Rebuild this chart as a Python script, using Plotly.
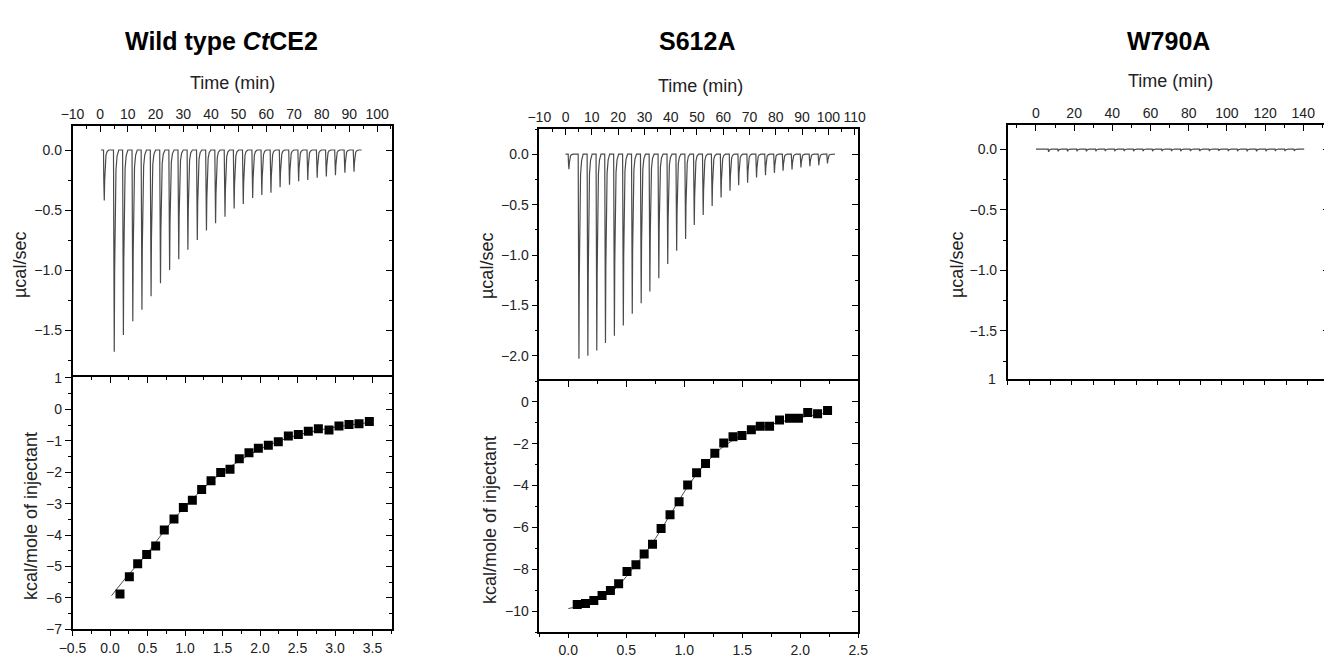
import plotly.graph_objects as go

PAGE_W, PAGE_H = 1332, 658
OFF = 8                      # default body margin of the html page
W, H = PAGE_W - OFF, PAGE_H - OFF

# ---------------- data ----------------
# Wild type CtCE2 : raw thermogram (time in min, peak depth in ucal/sec)
wt_baseline = [0.25, 94.4]
wt_first_time = [1.2]
wt_first_peak = [-0.42]
wt_inj_times = [4.8, 8.1, 11.5, 14.8, 18.1, 21.5, 24.8, 28.1, 31.4, 34.8, 38.1, 41.4, 44.8, 48.1,
                51.4, 54.8, 58.1, 61.4, 64.7, 68.1, 71.4, 74.7, 78.1, 81.4, 84.7, 88.1, 91.4]
wt_peaks = [-1.68, -1.54, -1.425, -1.33, -1.217, -1.11, -1.0, -0.91, -0.83, -0.75, -0.67, -0.61,
            -0.555, -0.486, -0.45, -0.40, -0.375, -0.355, -0.31, -0.29, -0.26, -0.25, -0.23, -0.22,
            -0.21, -0.19, -0.18]
# Wild type : integrated heats
wt_ratio = [0.133, 0.258, 0.369, 0.489, 0.609, 0.724, 0.853, 0.978, 1.098, 1.222, 1.347, 1.476,
            1.600, 1.724, 1.853, 1.978, 2.111, 2.244, 2.378, 2.511, 2.644, 2.778, 2.920, 3.053,
            3.187, 3.320, 3.458]
wt_heat = [-5.88, -5.33, -4.91, -4.62, -4.35, -3.84, -3.49, -3.12, -2.89, -2.55, -2.27, -2.01,
           -1.91, -1.57, -1.38, -1.24, -1.14, -1.03, -0.85, -0.80, -0.70, -0.62, -0.66, -0.53,
           -0.48, -0.46, -0.39]
wt_fit_ratio = [0.02, 0.25, 0.5, 0.75, 1.0, 1.25, 1.5, 1.75, 2.0, 2.25, 2.5, 2.75, 3.0, 3.25, 3.46]
wt_fit_heat = [-5.93, -5.25, -4.58, -3.78, -3.10, -2.50, -2.00, -1.60, -1.26, -1.01, -0.82,
               -0.68, -0.57, -0.48, -0.42]

# S612A : raw thermogram
s6_baseline = [0.0, 102.5]
s6_first_time = [1.0]
s6_first_peak = [-0.15]
s6_inj_times = [4.8, 8.2, 11.6, 14.9, 18.3, 21.7, 25.1, 28.5, 31.8, 35.2, 38.6, 42.0, 45.4, 48.7,
                52.1, 55.5, 58.9, 62.3, 65.6, 69.0, 72.4, 75.8, 79.2, 82.5, 85.9, 89.3, 92.7, 96.1,
                99.4]
s6_peaks = [-2.03, -2.00, -1.947, -1.874, -1.80, -1.70, -1.584, -1.478, -1.363, -1.231, -1.089,
            -0.957, -0.842, -0.703, -0.604, -0.515, -0.43, -0.363, -0.307, -0.284, -0.231, -0.208,
            -0.185, -0.165, -0.152, -0.132, -0.119, -0.109, -0.092]
# S612A : integrated heats
s6_ratio = [0.077, 0.148, 0.220, 0.291, 0.363, 0.434, 0.506, 0.583, 0.654, 0.726, 0.800, 0.877,
            0.955, 1.029, 1.106, 1.183, 1.263, 1.340, 1.420, 1.497, 1.578, 1.655, 1.735, 1.821,
            1.907, 1.984, 2.064, 2.149, 2.235]
s6_heat = [-9.69, -9.64, -9.50, -9.25, -9.01, -8.69, -8.11, -7.79, -7.27, -6.81, -6.05, -5.40,
           -4.77, -3.97, -3.39, -2.95, -2.45, -1.96, -1.66, -1.60, -1.33, -1.16, -1.16, -0.86,
           -0.78, -0.78, -0.51, -0.57, -0.41]
s6_fit_ratio = [0.0, 0.1, 0.2, 0.3, 0.4, 0.5, 0.6, 0.7, 0.8, 0.9, 1.0, 1.1, 1.2, 1.3, 1.4, 1.5,
                1.6, 1.7, 1.8, 1.9, 2.0, 2.1, 2.235]
s6_fit_heat = [-9.88, -9.75, -9.55, -9.30, -8.95, -8.35, -7.65, -6.95, -6.10, -5.20, -4.30, -3.50,
               -2.85, -2.30, -1.90, -1.60, -1.37, -1.17, -1.00, -0.87, -0.75, -0.65, -0.52]

# W790A : raw thermogram (no binding)
w7_baseline = [0.0, 140.5]
w7_inj_times = [6.4, 11.4, 16.3, 21.3, 26.2, 31.2, 36.1, 41.1, 46.0, 51.0, 55.9, 60.9, 65.8, 70.8,
                75.7, 80.7, 85.6, 90.6, 95.5, 100.5, 105.4, 110.4, 115.3, 120.3, 125.2, 130.2, 135.1]
w7_peaks = [-0.022, -0.018, -0.018, -0.016, -0.018, -0.016, -0.015, -0.016, -0.015, -0.016, -0.015,
            -0.016, -0.015, -0.015, -0.016, -0.015, -0.014, -0.015, -0.012, -0.016, -0.016, -0.017,
            -0.018, -0.016, -0.015, -0.014, -0.014]

titles = ["<b>Wild type <i>Ct</i>CE2</b>", "<b>S612A</b>", "<b>W790A</b>"]
time_title = "Time (min)"
raw_title = "µcal/sec"
heat_title = "kcal/mole of injectant"

# ---------------- helpers ----------------
PEAK_DT = [0.0, 0.10, 0.28, 0.42, 0.60, 0.90, 1.30, 1.90]
PEAK_FR = [0.0, 0.60, 1.00, 0.60, 0.28, 0.10, 0.03, 0.0]


def thermogram(baseline, times, depths):
    xs, ys = [baseline[0]], [0.0]
    for t, d in zip(times, depths):
        for dt, fr in zip(PEAK_DT, PEAK_FR):
            xs.append(t + dt)
            ys.append(d * fr)
    xs.append(baseline[1])
    ys.append(0.0)
    return xs, ys


def px(p):
    return (p - OFF) / W


def py(p):
    return 1 - (p - OFF) / H


FONT = "Liberation Sans, Arial, sans-serif"
TICKFONT = dict(family=FONT, size=14, color="#222")
TITLEFONT = dict(family=FONT, size=18, color="#222")
LINE = "#4a4a4a"

base = dict(showgrid=False, zeroline=False, linecolor="black", linewidth=1.5,
            tickcolor="black", tickwidth=1.3, tickfont=TICKFONT, fixedrange=True,
            automargin=False)


def minor(dt, where, ln=3):
    return dict(ticks=where, ticklen=ln, dtick=dt, tick0=0, tickcolor="black", tickwidth=1.2)


fig = go.Figure()
layout = {}
annotations = []

# ---------------- panel geometry (page pixels) ----------------
panels = [
    dict(x=(72.5, 392.0), top=(126, 377), bot=(377, 629.3), blen=5,
         trange=[-10, 105.4], tdt=10, tminor=5,
         yrange=[-1.89, 0.2],
         rrange=[-0.5, 3.76], hrange=[-7, 1.03], hdt=1, hminor=0.5,
         thermo=(wt_baseline, wt_first_time + wt_inj_times, wt_first_peak + wt_peaks),
         pts=(wt_ratio, wt_heat), fit=(wt_fit_ratio, wt_fit_heat),
         ttl=(232, 83), rawttl=(20, 265), heatttl=(31, 516)),
    dict(x=(539.3, 858.3), top=(129, 381), bot=(381, 632.0), blen=4,
         trange=[-10, 111.4], tdt=10, tminor=5,
         yrange=[-2.25, 0.25],
         rrange=[-0.25, 2.5], hrange=[-11, 1.0], hdt=2, hminor=1,
         thermo=(s6_baseline, s6_first_time + s6_inj_times, s6_first_peak + s6_peaks),
         pts=(s6_ratio, s6_heat), fit=(s6_fit_ratio, s6_fit_heat),
         ttl=(700, 86), rawttl=(487, 266), heatttl=(490, 520)),
    dict(x=(1007.7, 1329.0), top=(125, 379.3), bot=None,
         trange=[-14.8, 153.5], tdt=20, tminor=10,
         yrange=[-1.9, 0.2],
         thermo=(w7_baseline, w7_inj_times, w7_peaks),
         ttl=(1170, 81), rawttl=(957, 265)),
]

xi, yi = 1, 1


def name(prefix, i):
    return prefix if i == 1 else f"{prefix}{i}"


def text_ann(text, pos, angle=0):
    annotations.append(dict(text=text, x=px(pos[0]), y=py(pos[1]), xref="paper", yref="paper",
                            showarrow=False, xanchor="center", yanchor="middle",
                            textangle=angle, font=TITLEFONT))


for p in panels:
    xd = [px(p["x"][0]), px(p["x"][1])]
    has_bot = p["bot"] is not None
    # --- top (raw) panel ---
    xt, yl, yr = xi, yi, yi + 1
    xi += 1
    yi += 2
    tx, ty = thermogram(*p["thermo"])
    fig.add_trace(go.Scatter(x=tx, y=ty, mode="lines", line=dict(color=LINE, width=1.2),
                             xaxis=name("x", xt), yaxis=name("y", yl),
                             showlegend=False, hoverinfo="skip"))
    fig.add_trace(go.Scatter(x=[None], y=[None], xaxis=name("x", xt), yaxis=name("y", yr),
                             showlegend=False, hoverinfo="skip"))
    layout[name("xaxis", xt)] = dict(base, domain=xd, anchor=name("y", yl), side="top",
                                     range=p["trange"], dtick=p["tdt"], tick0=0,
                                     ticks="inside", ticklen=6, minor=minor(p["tminor"], "inside"),
                                     showline=True, mirror=not has_bot)
    ydom = [py(p["top"][1]), py(p["top"][0])]
    layout[name("yaxis", yl)] = dict(base, domain=ydom, anchor=name("x", xt), range=p["yrange"],
                                     dtick=0.5, tick0=0, tickformat=".1f", ticks="outside",
                                     ticklen=6, minor=minor(0.25, "outside"),
                                     showline=True, mirror=True)
    layout[name("yaxis", yr)] = dict(base, overlaying=name("y", yl), side="right",
                                     anchor=name("x", xt), range=p["yrange"], dtick=0.5, tick0=0,
                                     ticks="inside", ticklen=6, minor=minor(0.25, "inside"),
                                     showticklabels=False, showline=False)
    text_ann(time_title, p["ttl"])
    text_ann(raw_title, p["rawttl"], -90)
    if not has_bot:
        # bottom tick marks of the removed lower panel
        xb = xi
        xi += 1
        fig.add_trace(go.Scatter(x=[None], y=[None], xaxis=name("x", xb), yaxis=name("y", yl),
                                 showlegend=False, hoverinfo="skip"))
        layout[name("xaxis", xb)] = dict(base, overlaying=name("x", xt), side="bottom",
                                         anchor=name("y", yl), range=[0, 15], dtick=1,
                                         ticks="outside", ticklen=5, showticklabels=False,
                                         showline=False)
        continue
    # --- bottom (integrated) panel ---
    xb, xbt = xi, xi + 1
    xi += 2
    yb, ybr = yi, yi + 1
    yi += 2
    fx, fy = p["fit"]
    fig.add_trace(go.Scatter(x=fx, y=fy, mode="lines", line=dict(color=LINE, width=1, shape="spline"),
                             xaxis=name("x", xb), yaxis=name("y", yb),
                             showlegend=False, hoverinfo="skip"))
    rx, ry = p["pts"]
    fig.add_trace(go.Scatter(x=rx, y=ry, mode="markers",
                             marker=dict(symbol="square", size=9, color="black"),
                             xaxis=name("x", xb), yaxis=name("y", yb),
                             showlegend=False, hoverinfo="skip"))
    fig.add_trace(go.Scatter(x=[None], y=[None], xaxis=name("x", xbt), yaxis=name("y", yb),
                             showlegend=False, hoverinfo="skip"))
    fig.add_trace(go.Scatter(x=[None], y=[None], xaxis=name("x", xb), yaxis=name("y", ybr),
                             showlegend=False, hoverinfo="skip"))
    bdom = [py(p["bot"][1]), py(p["bot"][0])]
    layout[name("xaxis", xb)] = dict(base, domain=xd, anchor=name("y", yb), side="bottom",
                                     range=p["rrange"], dtick=0.5, tick0=0, tickformat=".1f",
                                     ticks="outside", ticklen=p["blen"],
                                     minor=minor(0.25, "outside"),
                                     showline=True, mirror=True)
    layout[name("xaxis", xbt)] = dict(base, overlaying=name("x", xb), side="top",
                                      anchor=name("y", yb), range=p["rrange"], dtick=0.5, tick0=0,
                                      ticks="inside", ticklen=6, minor=minor(0.25, "inside"),
                                      showticklabels=False, showline=False)
    layout[name("yaxis", yb)] = dict(base, domain=bdom, anchor=name("x", xb), range=p["hrange"],
                                     dtick=p["hdt"], tick0=0, ticks="outside", ticklen=6,
                                     minor=minor(p["hminor"], "outside"),
                                     showline=True, mirror=True)
    layout[name("yaxis", ybr)] = dict(base, overlaying=name("y", yb), side="right",
                                      anchor=name("x", xb), range=p["hrange"], dtick=p["hdt"],
                                      tick0=0, ticks="inside", ticklen=6,
                                      minor=minor(p["hminor"], "inside"),
                                      showticklabels=False, showline=False)
    text_ann(heat_title, p["heatttl"], -90)

title_x = [222, 697, 1168]
for t, xc in zip(titles, title_x):
    annotations.append(dict(text=t, x=px(xc), y=py(41), xref="paper", yref="paper",
                            showarrow=False, xanchor="center", yanchor="middle",
                            font=dict(family=FONT, size=25, color="black")))
annotations.append(dict(text="1", x=px(998), y=py(379.3), xref="paper", yref="paper",
                        showarrow=False, xanchor="right", yanchor="middle", font=TICKFONT))

fig.update_layout(width=W, height=H, margin=dict(l=0, r=0, t=0, b=0, autoexpand=False),
                  paper_bgcolor="white", plot_bgcolor="white",
                  annotations=annotations, **layout)

fig.write_html("out.html")
